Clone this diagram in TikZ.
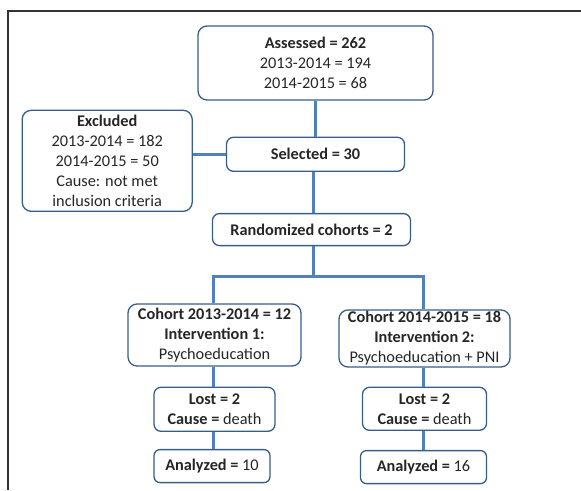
\documentclass[tikz,border=0pt]{standalone}
\usepackage{fontspec}
\setmainfont{Carlito}
\usepackage{tikz}
\usetikzlibrary{positioning}

\definecolor{boxline}{HTML}{385D8A}
\definecolor{flowline}{HTML}{4F81BD}

\begin{document}
\begin{tikzpicture}[
x=1pt, y=1pt,
stagebox/.style={rectangle, rounded corners=9pt, draw=boxline, line width=1.3pt, fill=white,
  align=center, inner sep=0pt, text=black!85, font=\fontsize{16.3}{20}\selectfont},
flow/.style={draw=flowline, line width=3pt},
]

\useasboundingbox (0,0) rectangle (581,-490);
\draw[black!80, line width=1.3pt] (8,-490) -- (8,-11) -- (581,-11);

\node[stagebox, minimum width=235pt, minimum height=74pt] (assessed) at (315.5,-63)
  {\textbf{Assessed = 262}\\2013-2014 = 194\\2014-2015 = 68};
\node[stagebox, minimum width=178pt, minimum height=34pt, rounded corners=7pt] (selected)
  [below=36pt of assessed] {\textbf{Selected = 30}};
\node[stagebox, minimum width=170pt, minimum height=101pt] (excluded)
  [left=33pt of selected, yshift=-6.5pt]
  {\textbf{Excluded}\\2013-2014 = 182\\2014-2015 = 50\\Cause: not met\\inclusion criteria};
\node[stagebox, minimum width=198pt, minimum height=32pt, rounded corners=7pt] (random)
  [below=41pt of selected, xshift=-4pt] {\textbf{Randomized cohorts = 2}};

\node[stagebox, minimum width=173pt, minimum height=62pt] (cohortA) at (214.5,-335)
  {\textbf{Cohort 2013-2014 = 12}\\\textbf{Intervention 1:}\\Psychoeducation};
\node[stagebox, minimum width=171pt, minimum height=57pt] (cohortB) at (424.5,-338.5)
  {\textbf{Cohort 2014-2015 = 18}\\\textbf{Intervention 2:}\\Psychoeducation + PNI};

\node[stagebox, minimum width=121pt, minimum height=44pt, rounded corners=7pt] (lostA)
  [below=20pt of cohortA] {\textbf{Lost = 2}\\\textbf{Cause =} death};
\node[stagebox, minimum width=124pt, minimum height=43pt, rounded corners=7pt] (lostB)
  [below=19pt of cohortB] {\textbf{Lost = 2}\\\textbf{Cause =} death};
\node[stagebox, minimum width=116pt, minimum height=33pt, rounded corners=6pt] (analyzedA)
  [below=17pt of lostA, xshift=-2.5pt] {\textbf{Analyzed =} 10};
\node[stagebox, minimum width=126pt, minimum height=33pt, rounded corners=6pt] (analyzedB)
  [below=19pt of lostB, xshift=-1pt] {\textbf{Analyzed =} 16};

\coordinate (split) at ([yshift=-30pt]random.south -| 313,0);

\draw[flow] (assessed.south) -- (selected.north);
\draw[flow] (excluded.east |- selected.west) -- (selected.west);
\draw[flow] (selected.south -| 313,0) -- (random.north -| 313,0);
\draw[flow] (random.south -| 313,0) -- (split);
\draw[flow] (split) -| (cohortA.north -| 213,0);
\draw[flow] (split) -| (cohortB.north -| 423,0);
\draw[flow] (cohortA.south -| 213,0) -- (lostA.north -| 213,0);
\draw[flow] (lostA.south -| 213,0) -- (analyzedA.north -| 213,0);
\draw[flow] (cohortB.south -| 423,0) -- (lostB.north -| 423,0);
\draw[flow] (lostB.south -| 423,0) -- (analyzedB.north -| 423,0);

\end{tikzpicture}
\end{document}
